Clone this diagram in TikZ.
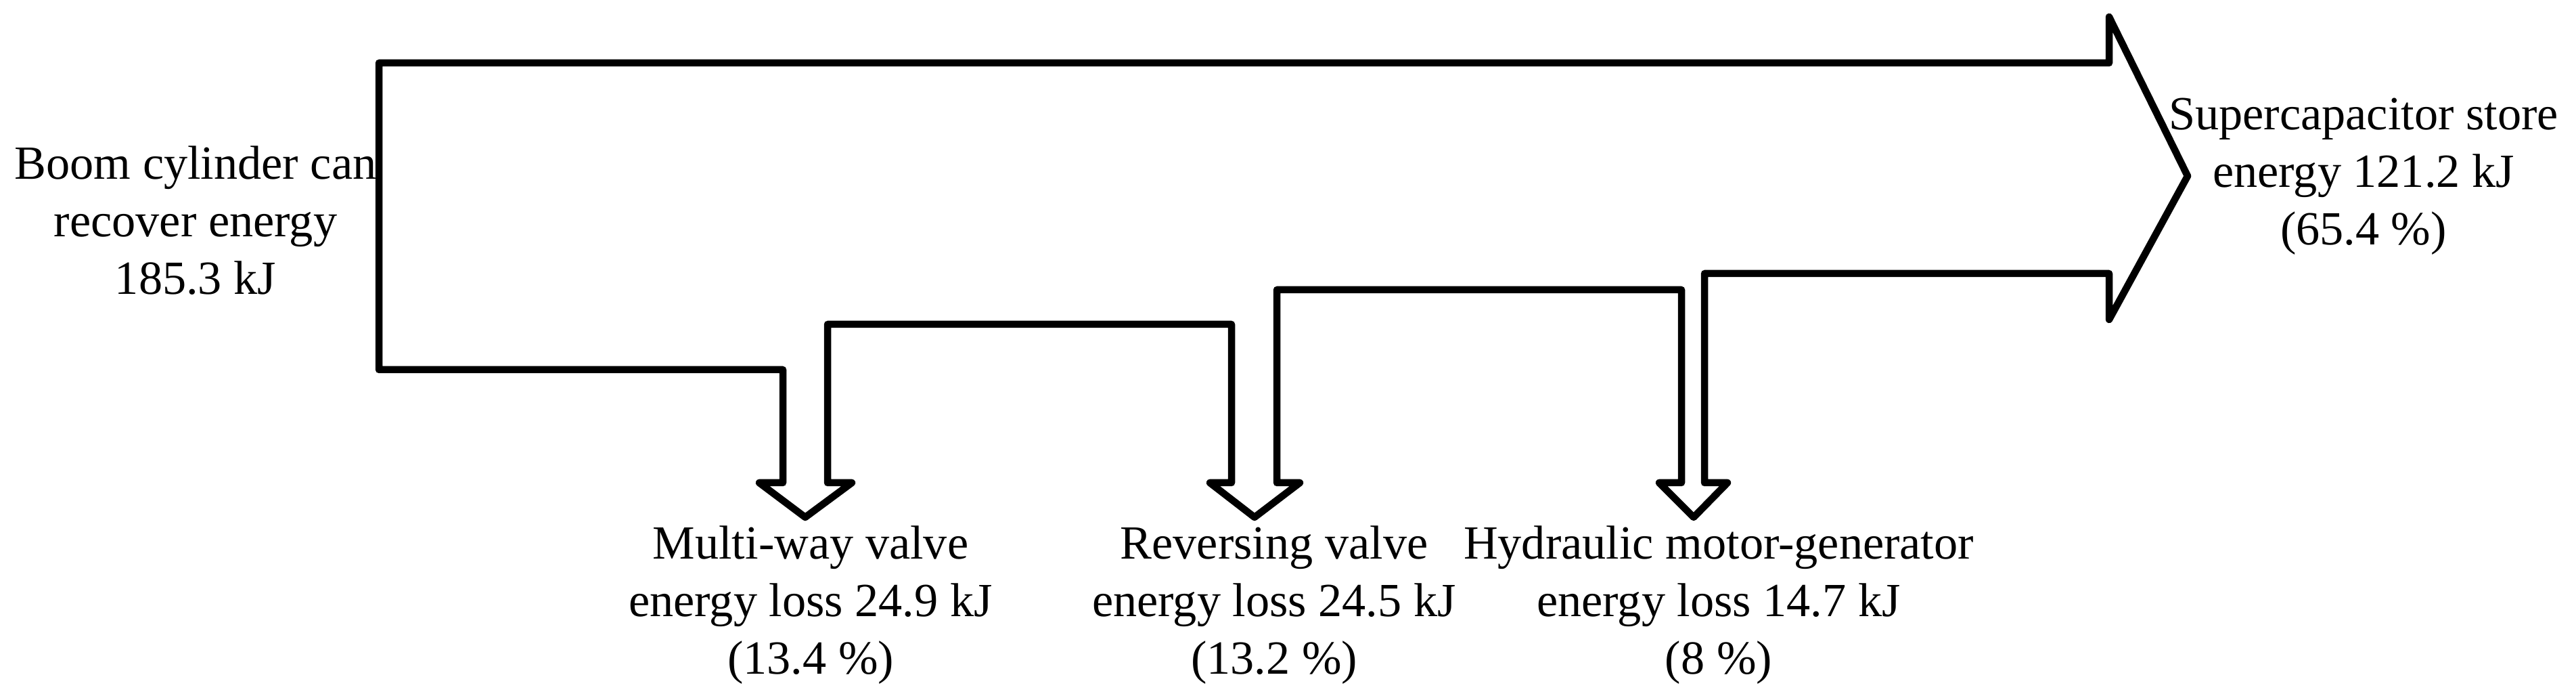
\documentclass[tikz,border=0pt]{standalone}
\usepackage{fontspec}
\setmainfont{Liberation Serif}
\usetikzlibrary{positioning}
\definecolor{flowc}{RGB}{0,0,0}

\begin{document}
\begin{tikzpicture}[draw=flowc, line width=1.05mm, line join=round]
		\tikzstyle{flow}=[draw=flowc, line width=1.05mm, line join=round]
		\tikzstyle{label}=[align=center, inner sep=0pt, anchor=north,
		font=\fontsize{20}{24.2}\selectfont]
		\useasboundingbox (0,0) rectangle (38.07,10.25);

		\newcommand{\heady}{3.12}
		\newcommand{\tipy}{2.61}

		% Energy flow
		\draw[flow] (5.60,9.32) -- (31.17,9.32) -- (31.17,10.00) -- (32.33,7.65)
			-- (31.17,5.53) -- (31.17,6.21)
			-- (25.19,6.21) -- (25.19,\heady) -- (25.53,\heady) -- (25.03,\tipy)
			-- (24.52,\heady) -- (24.85,\heady) -- (24.85,5.97)
			-- (18.87,5.97) -- (18.87,\heady) -- (19.21,\heady) -- (18.54,\tipy)
			-- (17.88,\heady) -- (18.20,\heady) -- (18.20,5.46)
			-- (12.23,5.46) -- (12.23,\heady) -- (12.59,\heady) -- (11.90,\tipy)
			-- (11.22,\heady) -- (11.57,\heady) -- (11.57,4.79)
			-- (5.60,4.79) -- cycle;

		% Source
		\node[label](L1) at (2.89,8.15) {Boom cylinder can\\recover energy\\185.3 kJ};

		% Losses
		\node[label](O1) at (11.98,2.54) {Multi-way valve\\energy loss 24.9 kJ\\(13.4 \%)};
		\node[label](O2) at (18.83,2.54) {Reversing valve\\energy loss 24.5 kJ\\(13.2 \%)};
		\node[label](O3) at (25.40,2.54) {Hydraulic motor-generator\\energy loss 14.7 kJ\\(8 \%)};

		% Storage
		\node[label](S1) at (34.93,8.85) {Supercapacitor store\\energy 121.2 kJ\\(65.4 \%)};

\end{tikzpicture}
\end{document}
